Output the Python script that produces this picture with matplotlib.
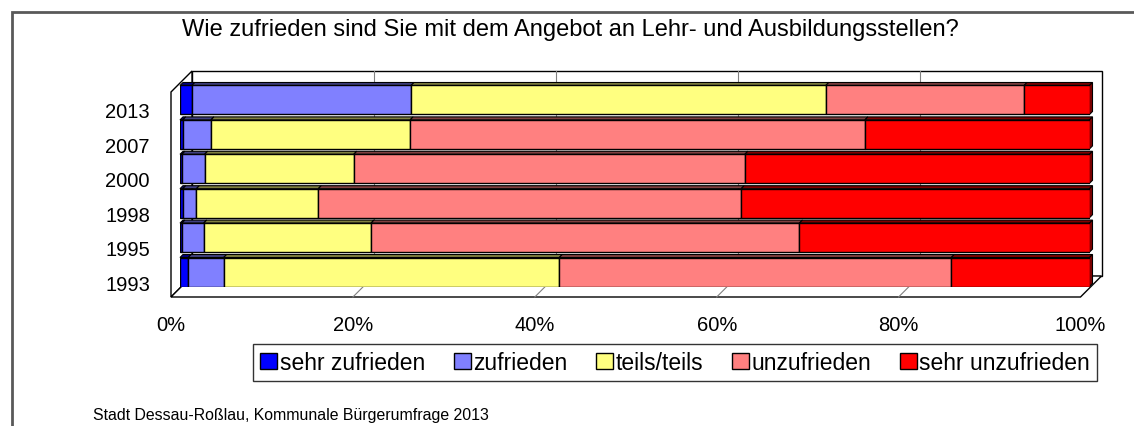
import numpy as np
import matplotlib.pyplot as plt
from matplotlib.patches import Patch, Polygon, Rectangle
from matplotlib.transforms import ScaledTranslation

plt.rcParams['font.family'] = ['Liberation Sans', 'DejaVu Sans']

# data (percent per year)
years = ["1993", "1995", "1998", "2000", "2007", "2013"]
categories = ["sehr zufrieden", "zufrieden", "teils/teils", "unzufrieden", "sehr unzufrieden"]
sehr_zufrieden = [0.9, 0.2, 0.3, 0.2, 0.3, 1.3]
zufrieden = [3.9, 2.4, 1.5, 2.5, 3.1, 24.1]
teils = [36.9, 18.4, 13.4, 16.4, 21.9, 45.6]
unzufrieden = [43.1, 47.1, 46.5, 43.0, 50.0, 21.8]
sehr_unzufrieden = [15.2, 31.9, 38.3, 37.9, 24.7, 7.2]
xticks = [0, 20, 40, 60, 80, 100]

colors = ["#0000FF", "#8080FF", "#FFFF80", "#FF8080", "#FF0000"]
shades = ["#000080", "#404080", "#808040", "#804040", "#800000"]

W, H = 1134, 427
fig = plt.figure(figsize=(W / 100, H / 100), dpi=100)

# bar plane in pixels
px_l, px_r, px_t, px_b = 180, 1089.5, 83, 288
ax = fig.add_axes([px_l / W, 1 - px_b / H, (px_r - px_l) / W, (px_b - px_t) / H])
y0, y1 = -0.436, 5.523
ax.set_xlim(0, 100)
ax.set_ylim(y0, y1)
sx = 100 / (px_r - px_l)
sy = (y1 - y0) / (px_b - px_t)


def off(x, y, dx, dy):
    return (x + dx * sx, y + dy * sy)


front = (-9, -10)
back = (12, 11)
d = 3  # bar depth in px

# walls and floor
ax.add_patch(Polygon([off(0, y0, *back), off(100, y0, *back), off(100, y1, *back), off(0, y1, *back)],
                     fc='white', ec='black', lw=1, zorder=0.5, clip_on=False))
ax.add_patch(Polygon([off(0, y0, *front), off(0, y1, *front), off(0, y1, *back), off(0, y0, *back)],
                     fc='white', ec='black', lw=1, zorder=0.6, clip_on=False))
ax.add_patch(Polygon([off(0, y0, *front), off(100, y0, *front), off(100, y0, *back), off(0, y0, *back)],
                     fc='white', ec='black', lw=1, zorder=0.6, clip_on=False))
for g in xticks[1:-1]:
    p, q = off(g, y0, *back), off(g, y1, *back)
    ax.plot([p[0], q[0]], [p[1], q[1]], color='#808080', lw=0.8, zorder=0.7, clip_on=False)
    p, q = off(g, y0, *front), off(g, y0, *back)
    ax.plot([p[0], q[0]], [p[1], q[1]], color='#808080', lw=0.8, zorder=0.7, clip_on=False)

# stacked 3d-ish bars
series = [sehr_zufrieden, zufrieden, teils, unzufrieden, sehr_unzufrieden]
ypos = np.arange(len(years))
h = 29 / 34.4
cum = np.zeros(len(years))
for i, vals in enumerate(series):
    vals = np.array(vals)
    ax.barh(ypos, vals, left=cum, height=h, color=colors[i], edgecolor='black', lw=1, zorder=3)
    for j in range(len(years)):
        l, r = cum[j], cum[j] + vals[j]
        yt = ypos[j] + h / 2
        ax.add_patch(Polygon([(l, yt), (r, yt), off(r, yt, d, d), off(l, yt, d, d)],
                             fc=shades[i], ec='black', lw=0.8, zorder=2.5, clip_on=False))
    cum += vals
for j in range(len(years)):
    yt, yb = ypos[j] + h / 2, ypos[j] - h / 2
    ax.add_patch(Polygon([(cum[j], yb), (cum[j], yt), off(cum[j], yt, d, d), off(cum[j], yb, d, d)],
                         fc=shades[-1], ec='black', lw=0.8, zorder=2.5, clip_on=False))

ax.set_yticks(ypos, years)
ax.set_xticks(xticks, [f"{t}%" for t in xticks])
ax.tick_params(axis='y', length=0, pad=21.6, labelsize=14.5)
ax.tick_params(axis='x', length=0, pad=13.2, labelsize=14.5)
for lab in ax.get_yticklabels():
    lab.set_transform(lab.get_transform() + ScaledTranslation(0, -0.10, fig.dpi_scale_trans))
for lab in ax.get_xticklabels():
    lab.set_transform(lab.get_transform() + ScaledTranslation(-0.09, -0.10, fig.dpi_scale_trans))
for s in ax.spines.values():
    s.set_visible(False)
ax.patch.set_visible(False)

handles = [Patch(fc=c, ec='black', lw=1) for c in colors]
leg = fig.legend(handles, categories, loc='center', bbox_to_anchor=(675 / W, 1 - 363.5 / H),
                 ncol=5, fontsize=16.5, frameon=True, fancybox=False, handlelength=0.75,
                 handleheight=0.75, handletextpad=0.1, columnspacing=1.25, borderpad=0.3)
leg.get_frame().set_edgecolor('black')
leg.get_frame().set_linewidth(1)

fig.text(570 / W, 1 - 30 / H, "Wie zufrieden sind Sie mit dem Angebot an Lehr- und Ausbildungsstellen?",
         ha='center', va='center', fontsize=17)
fig.text(93 / W, 1 - 416 / H, "Stadt Dessau-Roßlau, Kommunale Bürgerumfrage 2013",
         ha='left', va='center', fontsize=11.4)

# outer frame
fig.add_artist(Rectangle((12 / W, -0.5), 2, (H - 12.5) / H + 0.5, transform=fig.transFigure,
                         fill=False, ec='#595959', lw=2))

fig.savefig("out.png", dpi=100)
